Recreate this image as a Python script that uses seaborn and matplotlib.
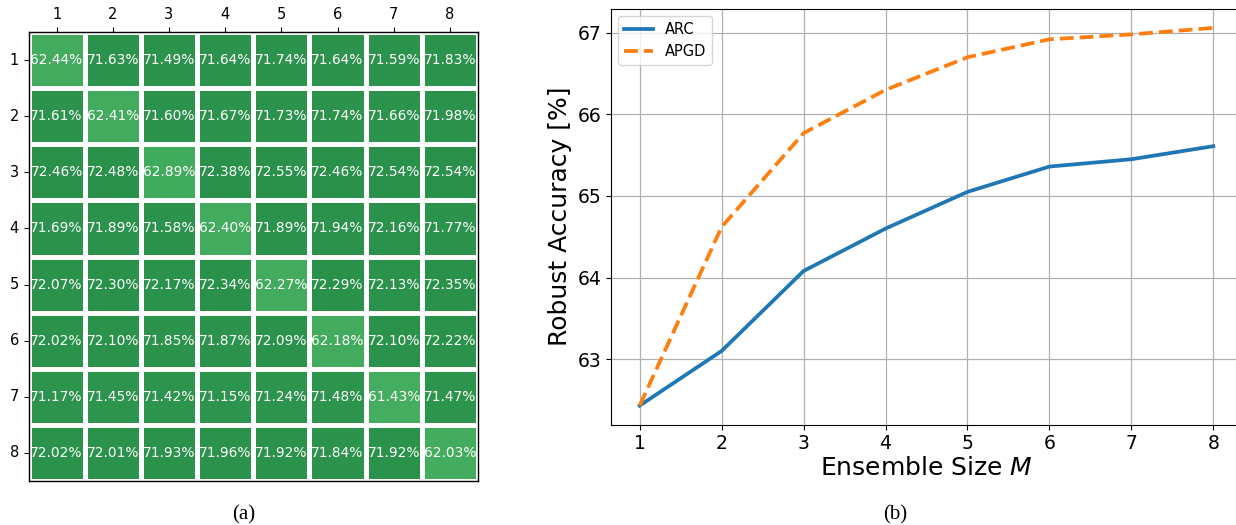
import numpy as np
import pandas as pd
import matplotlib
matplotlib.use("Agg")
import matplotlib.pyplot as plt
import seaborn as sns

# pairwise robust accuracy (%) between ensemble members
sizes = [1, 2, 3, 4, 5, 6, 7, 8]
acc_matrix = [
    [62.44, 71.63, 71.49, 71.64, 71.74, 71.64, 71.59, 71.83],
    [71.61, 62.41, 71.60, 71.67, 71.73, 71.74, 71.66, 71.98],
    [72.46, 72.48, 62.89, 72.38, 72.55, 72.46, 72.54, 72.54],
    [71.69, 71.89, 71.58, 62.40, 71.89, 71.94, 72.16, 71.77],
    [72.07, 72.30, 72.17, 72.34, 62.27, 72.29, 72.13, 72.35],
    [72.02, 72.10, 71.85, 71.87, 72.09, 62.18, 72.10, 72.22],
    [71.17, 71.45, 71.42, 71.15, 71.24, 71.48, 61.43, 71.47],
    [72.02, 72.01, 71.93, 71.96, 71.92, 71.84, 71.92, 62.03],
]

# robust accuracy vs ensemble size
ensemble_size = [1, 2, 3, 4, 5, 6, 7, 8]
arc_acc = [62.43, 63.10, 64.08, 64.60, 65.05, 65.36, 65.45, 65.61]
apgd_acc = [62.43, 64.62, 65.77, 66.30, 66.70, 66.92, 66.98, 67.06]

W, H = 1236, 525
fig = plt.figure(figsize=(W / 100, H / 100), dpi=100)

# (a) heatmap
ax1 = fig.add_axes([28.5 / W, (H - 481) / H, 449.5 / W, 449 / H])
mat = pd.DataFrame(acc_matrix, index=sizes, columns=sizes)
labels = np.array([[f"{v:.2f}%" for v in row] for row in acc_matrix])
sns.heatmap(mat, ax=ax1, cmap="Greens", vmin=0, vmax=100, cbar=False,
            annot=labels, fmt="", annot_kws={"color": "white", "fontsize": 9.9},
            linewidths=2.2, linecolor="white")
ax1.xaxis.tick_top()
ax1.tick_params(axis="both", labelsize=10.5, length=3.5, width=0.8)
ax1.tick_params(axis="y", rotation=0)
for sp in ax1.spines.values():
    sp.set_visible(True)
    sp.set_color("black")
    sp.set_linewidth(1.0)

# (b) line plot
ax2 = fig.add_axes([611 / W, (H - 424.5) / H, 631 / W, 415.5 / H])
sns.lineplot(x=ensemble_size, y=arc_acc, ax=ax2, color="#1f77b4", lw=2.7, label="ARC")
sns.lineplot(x=ensemble_size, y=apgd_acc, ax=ax2, color="#ff7f0e", lw=2.7,
             linestyle="--", label="APGD")
ax2.grid(True, color="#b0b0b0", lw=0.9)
ax2.set_xticks(ensemble_size)
ax2.set_yticks([63, 64, 65, 66, 67])
ax2.tick_params(axis="both", labelsize=13.5)
ax2.set_xlabel("Ensemble Size $M$", fontsize=18, labelpad=2)
ax2.set_ylabel("Robust Accuracy [%]", fontsize=18)
ax2.legend(loc="upper left", fontsize=10.5)

fig.text(244 / W, 1 - 515 / H, "(a)", family="Liberation Serif", fontsize=15,
         ha="center", va="center")
fig.text(895 / W, 1 - 515 / H, "(b)", family="Liberation Serif", fontsize=15,
         ha="center", va="center")

fig.savefig("out.png", dpi=100)
